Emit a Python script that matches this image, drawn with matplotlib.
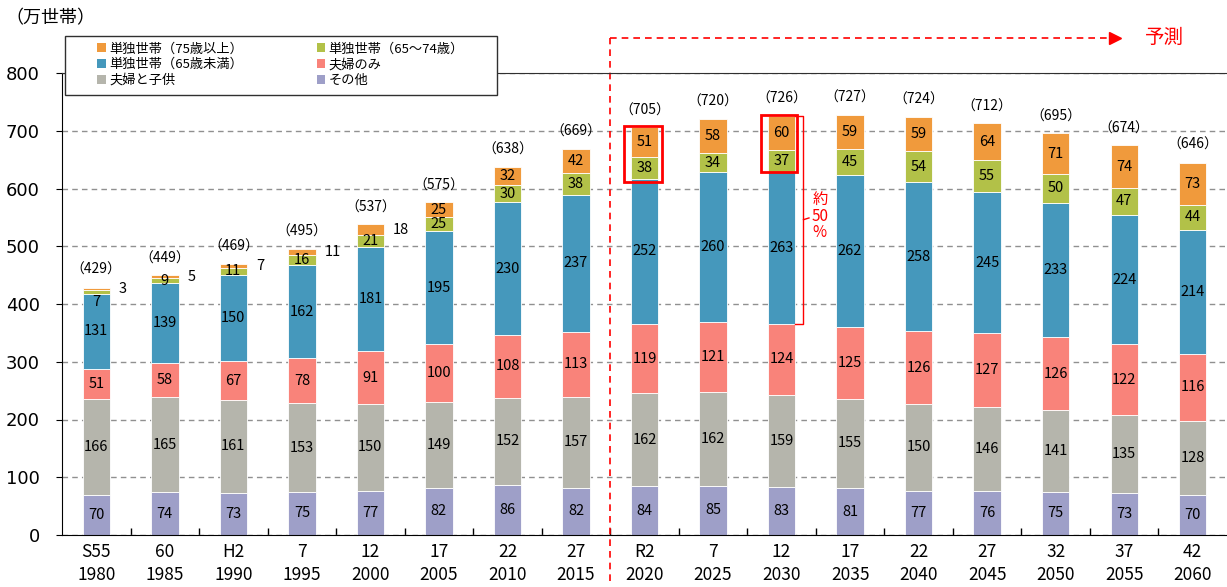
import numpy as np
import matplotlib.pyplot as plt
from matplotlib.patches import Rectangle, Patch
from matplotlib.transforms import blended_transform_factory

plt.rcParams['font.family'] = ['Noto Sans CJK JP', 'DejaVu Sans']

era_labels = ["S55", "60", "H2", "7", "12", "17", "22", "27", "R2",
              "7", "12", "17", "22", "27", "32", "37", "42"]
years = ["1980", "1985", "1990", "1995", "2000", "2005", "2010", "2015", "2020",
         "2025", "2030", "2035", "2040", "2045", "2050", "2055", "2060"]

# 万世帯, bottom to top
other = [70, 74, 73, 75, 77, 82, 86, 82, 84, 85, 83, 81, 77, 76, 75, 73, 70]
couple_child = [166, 165, 161, 153, 150, 149, 152, 157, 162, 162, 159, 155, 150, 146, 141, 135, 128]
couple_only = [51, 58, 67, 78, 91, 100, 108, 113, 119, 121, 124, 125, 126, 127, 126, 122, 116]
single_u65 = [131, 139, 150, 162, 181, 195, 230, 237, 252, 260, 263, 262, 258, 245, 233, 224, 214]
single_65_74 = [7, 9, 11, 16, 21, 25, 30, 38, 38, 34, 37, 45, 54, 55, 50, 47, 44]
single_75 = [3, 5, 7, 11, 18, 25, 32, 42, 51, 58, 60, 59, 59, 64, 71, 74, 73]
totals = [429, 449, 469, 495, 537, 575, 638, 669, 705, 720, 726, 727, 724, 712, 695, 674, 646]

names = ["その他", "夫婦と子供", "夫婦のみ", "単独世帯（65歳未満）",
         "単独世帯（65～74歳）", "単独世帯（75歳以上）"]
colors = ["#9E9FC8", "#B5B5AC", "#F9837A", "#4598BC", "#B2C148", "#F09A3C"]
data = [other, couple_child, couple_only, single_u65, single_65_74, single_75]

fig = plt.figure(figsize=(12.27, 5.87), dpi=100)
ax = fig.add_axes([62 / 1227, 52 / 587, 1165 / 1227, 462 / 587])

x = np.arange(len(years))
width = 0.4
bottom = np.zeros(len(years))
for k, (vals, col) in enumerate(zip(data, colors)):
    vals = np.array(vals, dtype=float)
    ax.bar(x, vals, width, bottom=bottom, color=col, edgecolor="white", linewidth=0.6, zorder=2)
    for j, v in enumerate(vals):
        cy = bottom[j] + v / 2
        if k == 5 and v < 20:
            # small 75+ values go to the right of the bar
            ax.text(x[j] + 0.33, cy, f"{int(v)}", ha="left", va="center", fontsize=10.5, zorder=4)
        elif k == 4 and v < 8:
            ax.text(x[j], bottom[j] - 14, f"{int(v)}", ha="center", va="center", fontsize=10.5, zorder=4)
        else:
            ax.text(x[j], cy, f"{int(v)}", ha="center", va="center", fontsize=10.5, zorder=4)
    bottom += vals

for j, t in enumerate(totals):
    ax.text(x[j], t + 30, f"（{t}）", ha="center", va="center", fontsize=10, zorder=4)

ax.set_xlim(-0.5, len(years) - 0.5)
ax.set_ylim(0, 800)
ax.set_yticks(range(0, 801, 100))
ax.set_xticks(x)
ax.set_xticklabels([f"{e}\n{y}" for e, y in zip(era_labels, years)], fontsize=12.5, linespacing=1.3)
ax.set_xticks(x[:-1] + 0.5, minor=True)
ax.tick_params(axis="x", which="major", length=0, pad=6)
ax.tick_params(axis="x", which="minor", direction="in", length=5, width=1)
ax.tick_params(axis="y", labelsize=13, length=4, pad=12)
for lbl in ax.get_yticklabels():
    lbl.set_fontfamily(["DejaVu Sans"])

ax.yaxis.grid(True, linestyle=(0, (4, 3)), color="#909090", linewidth=1)
ax.set_axisbelow(True)
ax.spines["right"].set_visible(False)
ax.spines["top"].set_color("#303030")

# 予測 arrow
tr = blended_transform_factory(ax.transData, ax.transAxes)
ax.plot([7.5, 7.5], [-0.1, 1.076], transform=tr, color="red", linestyle=(0, (4, 3)), linewidth=1.2, clip_on=False)
ax.plot([7.5, 14.8], [1.076, 1.076], transform=tr, color="red", linestyle=(0, (4, 3)), linewidth=1.2, clip_on=False)
ax.plot([14.87], [1.076], transform=tr, marker=">", color="red", markersize=9, clip_on=False)
ax.text(15.58, 1.076, "予測", transform=tr, color="red", fontsize=14, ha="center", va="center")

# highlight boxes
ax.add_patch(Rectangle((8 - 0.3, 612), 0.55, 96, fill=False, edgecolor="red", linewidth=2, zorder=5))
ax.add_patch(Rectangle((10 - 0.3, 629), 0.52, 98, fill=False, edgecolor="red", linewidth=2, zorder=5))

# bracket for 約50%
top_b, low_b = totals[10], other[10] + couple_child[10] + couple_only[10]
mid_b = (top_b + low_b) / 2
ax.plot([10.2, 10.32, 10.32, 10.2], [top_b, top_b, low_b, low_b], color="red", linewidth=1, zorder=5)
ax.plot([10.32, 10.4], [mid_b, mid_b + 3], color="red", linewidth=1, zorder=5)
ax.text(10.56, mid_b + 6, "約\n50\n%", color="red", fontsize=11, ha="center", va="center", linespacing=0.95)

# unit label
fig.text(5 / 1227, 1 - 18 / 587, "（万世帯）", fontsize=13, ha="left", va="center")

# legend with a plain box
fig.patches.append(Rectangle((65 / 1227, 1 - 95 / 587), 432 / 1227, 59 / 587, transform=fig.transFigure,
                             fill=True, facecolor="white", edgecolor="#303030", linewidth=1, zorder=3))
order = [5, 3, 1, 4, 2, 0]
handles = [Patch(facecolor=colors[i], edgecolor="none") for i in order]
fig.legend(handles, [names[i] for i in order], ncol=2, loc="upper left",
           bbox_to_anchor=(88 / 1227, 1 - 33 / 587), frameon=False, fontsize=9.5,
           handlelength=0.65, handleheight=0.65, handletextpad=0.25, columnspacing=5.6,
           labelspacing=0.22, borderpad=0.2)

fig.savefig("out.png", dpi=100)
